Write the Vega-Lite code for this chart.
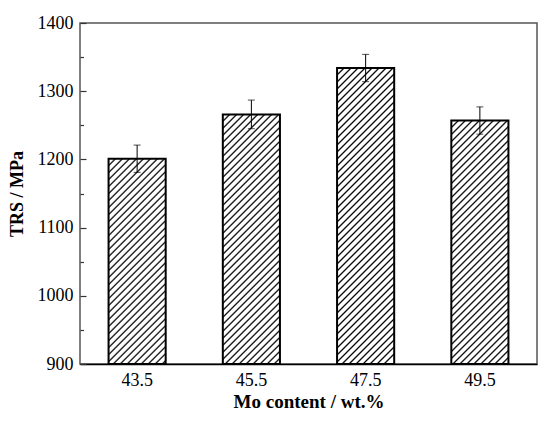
{
  "$schema": "https://vega.github.io/schema/vega-lite/v6.json",
  "autosize": {"type": "none"},
  "padding": {"left": 80, "top": 23, "right": 13, "bottom": 58},
  "width": 457,
  "height": 341,
  "background": "white",
  "config": {
    "font": "Liberation Serif",
    "view": {"stroke": "#555", "strokeWidth": 1.5},
    "axis": {"labelFont": "Liberation Serif", "titleFont": "Liberation Serif", "labelColor": "#000", "titleColor": "#000", "grid": false}
  },
  "data": {"values": [
    {"Mo": "43.5", "TRS": 1201, "err": 20},
    {"Mo": "45.5", "TRS": 1266, "err": 21},
    {"Mo": "47.5", "TRS": 1334, "err": 20},
    {"Mo": "49.5", "TRS": 1257, "err": 20}
  ]},
  "encoding": {
    "x": {"field": "Mo", "type": "ordinal", "sort": null,
      "scale": {"paddingInner": 0.5, "paddingOuter": 0.25},
      "axis": {"title": "Mo content / wt.%", "labelAngle": 0, "ticks": false, "domain": true, "domainColor": "#000", "domainWidth": 1.5,
        "labelFont": "Liberation Serif", "titleFont": "Liberation Serif",
        "labelFontSize": 18, "labelPadding": 7, "titleFontSize": 19, "titleFontWeight": "bold", "titlePadding": 3}},
    "y": {"field": "TRS", "type": "quantitative",
      "scale": {"domain": [900, 1400], "nice": false, "zero": false},
      "axis": {"title": "TRS / MPa", "values": [900, 950, 1000, 1050, 1100, 1150, 1200, 1250, 1300, 1350, 1400], "format": "d",
        "labelExpr": "datum.value % 100 === 0 ? datum.label : ''",
        "labelFont": "Liberation Serif", "titleFont": "Liberation Serif", "labelFontWeight": "normal",
        "domain": false, "tickSize": -6, "tickColor": "#333", "tickWidth": 1.2,
        "tickDash": {"condition": {"test": "datum.value % 100 !== 0", "value": [3.5, 30]}, "value": []},
        "labelFontSize": 18, "labelPadding": 13, "titleFontSize": 18, "titleFontWeight": "bold", "titlePadding": 11}}
  },
  "layer": [
    {
      "mark": {"type": "bar", "stroke": "#000", "strokeWidth": 2},
      "encoding": {
        "y2": {"datum": 900},
        "fill": {
          "condition": [
            {"test": "datum.Mo === '43.5'", "value": {"gradient": "linear", "x1": 0, "y1": 0, "x2": 0.4404, "y2": 1.5825, "stops": [
{"offset":0.015,"color":"#fff"},{"offset":0.02,"color":"#000"},{"offset":0.025,"color":"#fff"},
{"offset":0.035,"color":"#fff"},{"offset":0.04,"color":"#000"},{"offset":0.045,"color":"#fff"},
{"offset":0.055,"color":"#fff"},{"offset":0.06,"color":"#000"},{"offset":0.065,"color":"#fff"},
{"offset":0.075,"color":"#fff"},{"offset":0.08,"color":"#000"},{"offset":0.085,"color":"#fff"},
{"offset":0.095,"color":"#fff"},{"offset":0.1,"color":"#000"},{"offset":0.105,"color":"#fff"},
{"offset":0.115,"color":"#fff"},{"offset":0.12,"color":"#000"},{"offset":0.125,"color":"#fff"},
{"offset":0.135,"color":"#fff"},{"offset":0.14,"color":"#000"},{"offset":0.145,"color":"#fff"},
{"offset":0.155,"color":"#fff"},{"offset":0.16,"color":"#000"},{"offset":0.165,"color":"#fff"},
{"offset":0.175,"color":"#fff"},{"offset":0.18,"color":"#000"},{"offset":0.185,"color":"#fff"},
{"offset":0.195,"color":"#fff"},{"offset":0.2,"color":"#000"},{"offset":0.205,"color":"#fff"},
{"offset":0.215,"color":"#fff"},{"offset":0.22,"color":"#000"},{"offset":0.225,"color":"#fff"},
{"offset":0.235,"color":"#fff"},{"offset":0.24,"color":"#000"},{"offset":0.245,"color":"#fff"},
{"offset":0.255,"color":"#fff"},{"offset":0.26,"color":"#000"},{"offset":0.265,"color":"#fff"},
{"offset":0.275,"color":"#fff"},{"offset":0.28,"color":"#000"},{"offset":0.285,"color":"#fff"},
{"offset":0.295,"color":"#fff"},{"offset":0.3,"color":"#000"},{"offset":0.305,"color":"#fff"},
{"offset":0.315,"color":"#fff"},{"offset":0.32,"color":"#000"},{"offset":0.325,"color":"#fff"},
{"offset":0.335,"color":"#fff"},{"offset":0.34,"color":"#000"},{"offset":0.345,"color":"#fff"},
{"offset":0.355,"color":"#fff"},{"offset":0.36,"color":"#000"},{"offset":0.365,"color":"#fff"},
{"offset":0.375,"color":"#fff"},{"offset":0.38,"color":"#000"},{"offset":0.385,"color":"#fff"},
{"offset":0.395,"color":"#fff"},{"offset":0.4,"color":"#000"},{"offset":0.405,"color":"#fff"},
{"offset":0.415,"color":"#fff"},{"offset":0.42,"color":"#000"},{"offset":0.425,"color":"#fff"},
{"offset":0.435,"color":"#fff"},{"offset":0.44,"color":"#000"},{"offset":0.445,"color":"#fff"},
{"offset":0.455,"color":"#fff"},{"offset":0.46,"color":"#000"},{"offset":0.465,"color":"#fff"},
{"offset":0.475,"color":"#fff"},{"offset":0.48,"color":"#000"},{"offset":0.485,"color":"#fff"},
{"offset":0.495,"color":"#fff"},{"offset":0.5,"color":"#000"},{"offset":0.505,"color":"#fff"},
{"offset":0.515,"color":"#fff"},{"offset":0.52,"color":"#000"},{"offset":0.525,"color":"#fff"},
{"offset":0.535,"color":"#fff"},{"offset":0.54,"color":"#000"},{"offset":0.545,"color":"#fff"},
{"offset":0.555,"color":"#fff"},{"offset":0.56,"color":"#000"},{"offset":0.565,"color":"#fff"},
{"offset":0.575,"color":"#fff"},{"offset":0.58,"color":"#000"},{"offset":0.585,"color":"#fff"},
{"offset":0.595,"color":"#fff"},{"offset":0.6,"color":"#000"},{"offset":0.605,"color":"#fff"},
{"offset":0.615,"color":"#fff"},{"offset":0.62,"color":"#000"},{"offset":0.625,"color":"#fff"},
{"offset":0.635,"color":"#fff"},{"offset":0.64,"color":"#000"},{"offset":0.645,"color":"#fff"},
{"offset":0.655,"color":"#fff"},{"offset":0.66,"color":"#000"},{"offset":0.665,"color":"#fff"},
{"offset":0.675,"color":"#fff"},{"offset":0.68,"color":"#000"},{"offset":0.685,"color":"#fff"},
{"offset":0.695,"color":"#fff"},{"offset":0.7,"color":"#000"},{"offset":0.705,"color":"#fff"},
{"offset":0.715,"color":"#fff"},{"offset":0.72,"color":"#000"},{"offset":0.725,"color":"#fff"},
{"offset":0.735,"color":"#fff"},{"offset":0.74,"color":"#000"},{"offset":0.745,"color":"#fff"},
{"offset":0.755,"color":"#fff"},{"offset":0.76,"color":"#000"},{"offset":0.765,"color":"#fff"},
{"offset":0.775,"color":"#fff"},{"offset":0.78,"color":"#000"},{"offset":0.785,"color":"#fff"},
{"offset":0.795,"color":"#fff"},{"offset":0.8,"color":"#000"},{"offset":0.805,"color":"#fff"},
{"offset":0.815,"color":"#fff"},{"offset":0.82,"color":"#000"},{"offset":0.825,"color":"#fff"},
{"offset":0.835,"color":"#fff"},{"offset":0.84,"color":"#000"},{"offset":0.845,"color":"#fff"},
{"offset":0.855,"color":"#fff"},{"offset":0.86,"color":"#000"},{"offset":0.865,"color":"#fff"},
{"offset":0.875,"color":"#fff"},{"offset":0.88,"color":"#000"},{"offset":0.885,"color":"#fff"},
{"offset":0.895,"color":"#fff"},{"offset":0.9,"color":"#000"},{"offset":0.905,"color":"#fff"},
{"offset":0.915,"color":"#fff"},{"offset":0.92,"color":"#000"},{"offset":0.925,"color":"#fff"},
{"offset":0.935,"color":"#fff"},{"offset":0.94,"color":"#000"},{"offset":0.945,"color":"#fff"},
{"offset":0.955,"color":"#fff"},{"offset":0.96,"color":"#000"},{"offset":0.965,"color":"#fff"},
{"offset":0.975,"color":"#fff"},{"offset":0.98,"color":"#000"},{"offset":0.985,"color":"#fff"}
            ]}},
            {"test": "datum.Mo === '45.5'", "value": {"gradient": "linear", "x1": 0, "y1": 0, "x2": 0.3049, "y2": 1.3324, "stops": [
{"offset":0.015,"color":"#fff"},{"offset":0.02,"color":"#000"},{"offset":0.025,"color":"#fff"},
{"offset":0.035,"color":"#fff"},{"offset":0.04,"color":"#000"},{"offset":0.045,"color":"#fff"},
{"offset":0.055,"color":"#fff"},{"offset":0.06,"color":"#000"},{"offset":0.065,"color":"#fff"},
{"offset":0.075,"color":"#fff"},{"offset":0.08,"color":"#000"},{"offset":0.085,"color":"#fff"},
{"offset":0.095,"color":"#fff"},{"offset":0.1,"color":"#000"},{"offset":0.105,"color":"#fff"},
{"offset":0.115,"color":"#fff"},{"offset":0.12,"color":"#000"},{"offset":0.125,"color":"#fff"},
{"offset":0.135,"color":"#fff"},{"offset":0.14,"color":"#000"},{"offset":0.145,"color":"#fff"},
{"offset":0.155,"color":"#fff"},{"offset":0.16,"color":"#000"},{"offset":0.165,"color":"#fff"},
{"offset":0.175,"color":"#fff"},{"offset":0.18,"color":"#000"},{"offset":0.185,"color":"#fff"},
{"offset":0.195,"color":"#fff"},{"offset":0.2,"color":"#000"},{"offset":0.205,"color":"#fff"},
{"offset":0.215,"color":"#fff"},{"offset":0.22,"color":"#000"},{"offset":0.225,"color":"#fff"},
{"offset":0.235,"color":"#fff"},{"offset":0.24,"color":"#000"},{"offset":0.245,"color":"#fff"},
{"offset":0.255,"color":"#fff"},{"offset":0.26,"color":"#000"},{"offset":0.265,"color":"#fff"},
{"offset":0.275,"color":"#fff"},{"offset":0.28,"color":"#000"},{"offset":0.285,"color":"#fff"},
{"offset":0.295,"color":"#fff"},{"offset":0.3,"color":"#000"},{"offset":0.305,"color":"#fff"},
{"offset":0.315,"color":"#fff"},{"offset":0.32,"color":"#000"},{"offset":0.325,"color":"#fff"},
{"offset":0.335,"color":"#fff"},{"offset":0.34,"color":"#000"},{"offset":0.345,"color":"#fff"},
{"offset":0.355,"color":"#fff"},{"offset":0.36,"color":"#000"},{"offset":0.365,"color":"#fff"},
{"offset":0.375,"color":"#fff"},{"offset":0.38,"color":"#000"},{"offset":0.385,"color":"#fff"},
{"offset":0.395,"color":"#fff"},{"offset":0.4,"color":"#000"},{"offset":0.405,"color":"#fff"},
{"offset":0.415,"color":"#fff"},{"offset":0.42,"color":"#000"},{"offset":0.425,"color":"#fff"},
{"offset":0.435,"color":"#fff"},{"offset":0.44,"color":"#000"},{"offset":0.445,"color":"#fff"},
{"offset":0.455,"color":"#fff"},{"offset":0.46,"color":"#000"},{"offset":0.465,"color":"#fff"},
{"offset":0.475,"color":"#fff"},{"offset":0.48,"color":"#000"},{"offset":0.485,"color":"#fff"},
{"offset":0.495,"color":"#fff"},{"offset":0.5,"color":"#000"},{"offset":0.505,"color":"#fff"},
{"offset":0.515,"color":"#fff"},{"offset":0.52,"color":"#000"},{"offset":0.525,"color":"#fff"},
{"offset":0.535,"color":"#fff"},{"offset":0.54,"color":"#000"},{"offset":0.545,"color":"#fff"},
{"offset":0.555,"color":"#fff"},{"offset":0.56,"color":"#000"},{"offset":0.565,"color":"#fff"},
{"offset":0.575,"color":"#fff"},{"offset":0.58,"color":"#000"},{"offset":0.585,"color":"#fff"},
{"offset":0.595,"color":"#fff"},{"offset":0.6,"color":"#000"},{"offset":0.605,"color":"#fff"},
{"offset":0.615,"color":"#fff"},{"offset":0.62,"color":"#000"},{"offset":0.625,"color":"#fff"},
{"offset":0.635,"color":"#fff"},{"offset":0.64,"color":"#000"},{"offset":0.645,"color":"#fff"},
{"offset":0.655,"color":"#fff"},{"offset":0.66,"color":"#000"},{"offset":0.665,"color":"#fff"},
{"offset":0.675,"color":"#fff"},{"offset":0.68,"color":"#000"},{"offset":0.685,"color":"#fff"},
{"offset":0.695,"color":"#fff"},{"offset":0.7,"color":"#000"},{"offset":0.705,"color":"#fff"},
{"offset":0.715,"color":"#fff"},{"offset":0.72,"color":"#000"},{"offset":0.725,"color":"#fff"},
{"offset":0.735,"color":"#fff"},{"offset":0.74,"color":"#000"},{"offset":0.745,"color":"#fff"},
{"offset":0.755,"color":"#fff"},{"offset":0.76,"color":"#000"},{"offset":0.765,"color":"#fff"},
{"offset":0.775,"color":"#fff"},{"offset":0.78,"color":"#000"},{"offset":0.785,"color":"#fff"},
{"offset":0.795,"color":"#fff"},{"offset":0.8,"color":"#000"},{"offset":0.805,"color":"#fff"},
{"offset":0.815,"color":"#fff"},{"offset":0.82,"color":"#000"},{"offset":0.825,"color":"#fff"},
{"offset":0.835,"color":"#fff"},{"offset":0.84,"color":"#000"},{"offset":0.845,"color":"#fff"},
{"offset":0.855,"color":"#fff"},{"offset":0.86,"color":"#000"},{"offset":0.865,"color":"#fff"},
{"offset":0.875,"color":"#fff"},{"offset":0.88,"color":"#000"},{"offset":0.885,"color":"#fff"},
{"offset":0.895,"color":"#fff"},{"offset":0.9,"color":"#000"},{"offset":0.905,"color":"#fff"},
{"offset":0.915,"color":"#fff"},{"offset":0.92,"color":"#000"},{"offset":0.925,"color":"#fff"},
{"offset":0.935,"color":"#fff"},{"offset":0.94,"color":"#000"},{"offset":0.945,"color":"#fff"},
{"offset":0.955,"color":"#fff"},{"offset":0.96,"color":"#000"},{"offset":0.965,"color":"#fff"},
{"offset":0.975,"color":"#fff"},{"offset":0.98,"color":"#000"},{"offset":0.985,"color":"#fff"}
            ]}},
            {"test": "datum.Mo === '47.5'", "value": {"gradient": "linear", "x1": 0, "y1": 0, "x2": 0.22, "y2": 1.14, "stops": [
{"offset":0.015,"color":"#fff"},{"offset":0.02,"color":"#000"},{"offset":0.025,"color":"#fff"},
{"offset":0.035,"color":"#fff"},{"offset":0.04,"color":"#000"},{"offset":0.045,"color":"#fff"},
{"offset":0.055,"color":"#fff"},{"offset":0.06,"color":"#000"},{"offset":0.065,"color":"#fff"},
{"offset":0.075,"color":"#fff"},{"offset":0.08,"color":"#000"},{"offset":0.085,"color":"#fff"},
{"offset":0.095,"color":"#fff"},{"offset":0.1,"color":"#000"},{"offset":0.105,"color":"#fff"},
{"offset":0.115,"color":"#fff"},{"offset":0.12,"color":"#000"},{"offset":0.125,"color":"#fff"},
{"offset":0.135,"color":"#fff"},{"offset":0.14,"color":"#000"},{"offset":0.145,"color":"#fff"},
{"offset":0.155,"color":"#fff"},{"offset":0.16,"color":"#000"},{"offset":0.165,"color":"#fff"},
{"offset":0.175,"color":"#fff"},{"offset":0.18,"color":"#000"},{"offset":0.185,"color":"#fff"},
{"offset":0.195,"color":"#fff"},{"offset":0.2,"color":"#000"},{"offset":0.205,"color":"#fff"},
{"offset":0.215,"color":"#fff"},{"offset":0.22,"color":"#000"},{"offset":0.225,"color":"#fff"},
{"offset":0.235,"color":"#fff"},{"offset":0.24,"color":"#000"},{"offset":0.245,"color":"#fff"},
{"offset":0.255,"color":"#fff"},{"offset":0.26,"color":"#000"},{"offset":0.265,"color":"#fff"},
{"offset":0.275,"color":"#fff"},{"offset":0.28,"color":"#000"},{"offset":0.285,"color":"#fff"},
{"offset":0.295,"color":"#fff"},{"offset":0.3,"color":"#000"},{"offset":0.305,"color":"#fff"},
{"offset":0.315,"color":"#fff"},{"offset":0.32,"color":"#000"},{"offset":0.325,"color":"#fff"},
{"offset":0.335,"color":"#fff"},{"offset":0.34,"color":"#000"},{"offset":0.345,"color":"#fff"},
{"offset":0.355,"color":"#fff"},{"offset":0.36,"color":"#000"},{"offset":0.365,"color":"#fff"},
{"offset":0.375,"color":"#fff"},{"offset":0.38,"color":"#000"},{"offset":0.385,"color":"#fff"},
{"offset":0.395,"color":"#fff"},{"offset":0.4,"color":"#000"},{"offset":0.405,"color":"#fff"},
{"offset":0.415,"color":"#fff"},{"offset":0.42,"color":"#000"},{"offset":0.425,"color":"#fff"},
{"offset":0.435,"color":"#fff"},{"offset":0.44,"color":"#000"},{"offset":0.445,"color":"#fff"},
{"offset":0.455,"color":"#fff"},{"offset":0.46,"color":"#000"},{"offset":0.465,"color":"#fff"},
{"offset":0.475,"color":"#fff"},{"offset":0.48,"color":"#000"},{"offset":0.485,"color":"#fff"},
{"offset":0.495,"color":"#fff"},{"offset":0.5,"color":"#000"},{"offset":0.505,"color":"#fff"},
{"offset":0.515,"color":"#fff"},{"offset":0.52,"color":"#000"},{"offset":0.525,"color":"#fff"},
{"offset":0.535,"color":"#fff"},{"offset":0.54,"color":"#000"},{"offset":0.545,"color":"#fff"},
{"offset":0.555,"color":"#fff"},{"offset":0.56,"color":"#000"},{"offset":0.565,"color":"#fff"},
{"offset":0.575,"color":"#fff"},{"offset":0.58,"color":"#000"},{"offset":0.585,"color":"#fff"},
{"offset":0.595,"color":"#fff"},{"offset":0.6,"color":"#000"},{"offset":0.605,"color":"#fff"},
{"offset":0.615,"color":"#fff"},{"offset":0.62,"color":"#000"},{"offset":0.625,"color":"#fff"},
{"offset":0.635,"color":"#fff"},{"offset":0.64,"color":"#000"},{"offset":0.645,"color":"#fff"},
{"offset":0.655,"color":"#fff"},{"offset":0.66,"color":"#000"},{"offset":0.665,"color":"#fff"},
{"offset":0.675,"color":"#fff"},{"offset":0.68,"color":"#000"},{"offset":0.685,"color":"#fff"},
{"offset":0.695,"color":"#fff"},{"offset":0.7,"color":"#000"},{"offset":0.705,"color":"#fff"},
{"offset":0.715,"color":"#fff"},{"offset":0.72,"color":"#000"},{"offset":0.725,"color":"#fff"},
{"offset":0.735,"color":"#fff"},{"offset":0.74,"color":"#000"},{"offset":0.745,"color":"#fff"},
{"offset":0.755,"color":"#fff"},{"offset":0.76,"color":"#000"},{"offset":0.765,"color":"#fff"},
{"offset":0.775,"color":"#fff"},{"offset":0.78,"color":"#000"},{"offset":0.785,"color":"#fff"},
{"offset":0.795,"color":"#fff"},{"offset":0.8,"color":"#000"},{"offset":0.805,"color":"#fff"},
{"offset":0.815,"color":"#fff"},{"offset":0.82,"color":"#000"},{"offset":0.825,"color":"#fff"},
{"offset":0.835,"color":"#fff"},{"offset":0.84,"color":"#000"},{"offset":0.845,"color":"#fff"},
{"offset":0.855,"color":"#fff"},{"offset":0.86,"color":"#000"},{"offset":0.865,"color":"#fff"},
{"offset":0.875,"color":"#fff"},{"offset":0.88,"color":"#000"},{"offset":0.885,"color":"#fff"},
{"offset":0.895,"color":"#fff"},{"offset":0.9,"color":"#000"},{"offset":0.905,"color":"#fff"},
{"offset":0.915,"color":"#fff"},{"offset":0.92,"color":"#000"},{"offset":0.925,"color":"#fff"},
{"offset":0.935,"color":"#fff"},{"offset":0.94,"color":"#000"},{"offset":0.945,"color":"#fff"},
{"offset":0.955,"color":"#fff"},{"offset":0.96,"color":"#000"},{"offset":0.965,"color":"#fff"},
{"offset":0.975,"color":"#fff"},{"offset":0.98,"color":"#000"},{"offset":0.985,"color":"#fff"}
            ]}}
          ],
          "value": {"gradient": "linear", "x1": 0, "y1": 0, "x2": 0.3197, "y2": 1.3625, "stops": [
{"offset":0.015,"color":"#fff"},{"offset":0.02,"color":"#000"},{"offset":0.025,"color":"#fff"},
{"offset":0.035,"color":"#fff"},{"offset":0.04,"color":"#000"},{"offset":0.045,"color":"#fff"},
{"offset":0.055,"color":"#fff"},{"offset":0.06,"color":"#000"},{"offset":0.065,"color":"#fff"},
{"offset":0.075,"color":"#fff"},{"offset":0.08,"color":"#000"},{"offset":0.085,"color":"#fff"},
{"offset":0.095,"color":"#fff"},{"offset":0.1,"color":"#000"},{"offset":0.105,"color":"#fff"},
{"offset":0.115,"color":"#fff"},{"offset":0.12,"color":"#000"},{"offset":0.125,"color":"#fff"},
{"offset":0.135,"color":"#fff"},{"offset":0.14,"color":"#000"},{"offset":0.145,"color":"#fff"},
{"offset":0.155,"color":"#fff"},{"offset":0.16,"color":"#000"},{"offset":0.165,"color":"#fff"},
{"offset":0.175,"color":"#fff"},{"offset":0.18,"color":"#000"},{"offset":0.185,"color":"#fff"},
{"offset":0.195,"color":"#fff"},{"offset":0.2,"color":"#000"},{"offset":0.205,"color":"#fff"},
{"offset":0.215,"color":"#fff"},{"offset":0.22,"color":"#000"},{"offset":0.225,"color":"#fff"},
{"offset":0.235,"color":"#fff"},{"offset":0.24,"color":"#000"},{"offset":0.245,"color":"#fff"},
{"offset":0.255,"color":"#fff"},{"offset":0.26,"color":"#000"},{"offset":0.265,"color":"#fff"},
{"offset":0.275,"color":"#fff"},{"offset":0.28,"color":"#000"},{"offset":0.285,"color":"#fff"},
{"offset":0.295,"color":"#fff"},{"offset":0.3,"color":"#000"},{"offset":0.305,"color":"#fff"},
{"offset":0.315,"color":"#fff"},{"offset":0.32,"color":"#000"},{"offset":0.325,"color":"#fff"},
{"offset":0.335,"color":"#fff"},{"offset":0.34,"color":"#000"},{"offset":0.345,"color":"#fff"},
{"offset":0.355,"color":"#fff"},{"offset":0.36,"color":"#000"},{"offset":0.365,"color":"#fff"},
{"offset":0.375,"color":"#fff"},{"offset":0.38,"color":"#000"},{"offset":0.385,"color":"#fff"},
{"offset":0.395,"color":"#fff"},{"offset":0.4,"color":"#000"},{"offset":0.405,"color":"#fff"},
{"offset":0.415,"color":"#fff"},{"offset":0.42,"color":"#000"},{"offset":0.425,"color":"#fff"},
{"offset":0.435,"color":"#fff"},{"offset":0.44,"color":"#000"},{"offset":0.445,"color":"#fff"},
{"offset":0.455,"color":"#fff"},{"offset":0.46,"color":"#000"},{"offset":0.465,"color":"#fff"},
{"offset":0.475,"color":"#fff"},{"offset":0.48,"color":"#000"},{"offset":0.485,"color":"#fff"},
{"offset":0.495,"color":"#fff"},{"offset":0.5,"color":"#000"},{"offset":0.505,"color":"#fff"},
{"offset":0.515,"color":"#fff"},{"offset":0.52,"color":"#000"},{"offset":0.525,"color":"#fff"},
{"offset":0.535,"color":"#fff"},{"offset":0.54,"color":"#000"},{"offset":0.545,"color":"#fff"},
{"offset":0.555,"color":"#fff"},{"offset":0.56,"color":"#000"},{"offset":0.565,"color":"#fff"},
{"offset":0.575,"color":"#fff"},{"offset":0.58,"color":"#000"},{"offset":0.585,"color":"#fff"},
{"offset":0.595,"color":"#fff"},{"offset":0.6,"color":"#000"},{"offset":0.605,"color":"#fff"},
{"offset":0.615,"color":"#fff"},{"offset":0.62,"color":"#000"},{"offset":0.625,"color":"#fff"},
{"offset":0.635,"color":"#fff"},{"offset":0.64,"color":"#000"},{"offset":0.645,"color":"#fff"},
{"offset":0.655,"color":"#fff"},{"offset":0.66,"color":"#000"},{"offset":0.665,"color":"#fff"},
{"offset":0.675,"color":"#fff"},{"offset":0.68,"color":"#000"},{"offset":0.685,"color":"#fff"},
{"offset":0.695,"color":"#fff"},{"offset":0.7,"color":"#000"},{"offset":0.705,"color":"#fff"},
{"offset":0.715,"color":"#fff"},{"offset":0.72,"color":"#000"},{"offset":0.725,"color":"#fff"},
{"offset":0.735,"color":"#fff"},{"offset":0.74,"color":"#000"},{"offset":0.745,"color":"#fff"},
{"offset":0.755,"color":"#fff"},{"offset":0.76,"color":"#000"},{"offset":0.765,"color":"#fff"},
{"offset":0.775,"color":"#fff"},{"offset":0.78,"color":"#000"},{"offset":0.785,"color":"#fff"},
{"offset":0.795,"color":"#fff"},{"offset":0.8,"color":"#000"},{"offset":0.805,"color":"#fff"},
{"offset":0.815,"color":"#fff"},{"offset":0.82,"color":"#000"},{"offset":0.825,"color":"#fff"},
{"offset":0.835,"color":"#fff"},{"offset":0.84,"color":"#000"},{"offset":0.845,"color":"#fff"},
{"offset":0.855,"color":"#fff"},{"offset":0.86,"color":"#000"},{"offset":0.865,"color":"#fff"},
{"offset":0.875,"color":"#fff"},{"offset":0.88,"color":"#000"},{"offset":0.885,"color":"#fff"},
{"offset":0.895,"color":"#fff"},{"offset":0.9,"color":"#000"},{"offset":0.905,"color":"#fff"},
{"offset":0.915,"color":"#fff"},{"offset":0.92,"color":"#000"},{"offset":0.925,"color":"#fff"},
{"offset":0.935,"color":"#fff"},{"offset":0.94,"color":"#000"},{"offset":0.945,"color":"#fff"},
{"offset":0.955,"color":"#fff"},{"offset":0.96,"color":"#000"},{"offset":0.965,"color":"#fff"},
{"offset":0.975,"color":"#fff"},{"offset":0.98,"color":"#000"},{"offset":0.985,"color":"#fff"}
          ]}
        }
      }
    },
    {
      "mark": {"type": "errorbar", "ticks": {"size": 7, "color": "#000", "thickness": 1}, "rule": {"color": "#000", "strokeWidth": 1}},
      "encoding": {
        "yError": {"field": "err"}
      }
    }
  ]
}
